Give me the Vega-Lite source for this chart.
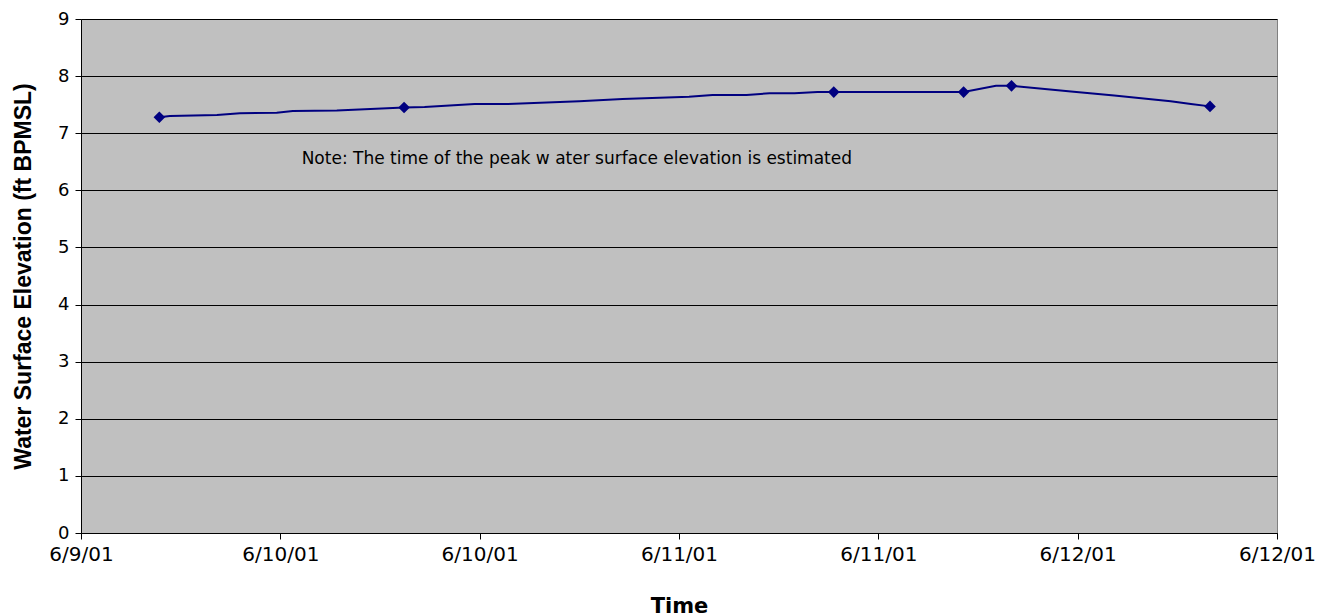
{
  "$schema": "https://vega.github.io/schema/vega-lite/v6.json",
  "width": 1196,
  "height": 514,
  "autosize": {"type": "none"},
  "padding": {"left": 81, "top": 19, "right": 50, "bottom": 83},
  "background": "white",
  "config": {
    "view": {"fill": "#C0C0C0", "stroke": "#808080", "strokeWidth": 1}
  },
  "datasets": {
    "stage": [
      {"time": "2001-06-09T16:43:00Z", "elev": 7.28, "measured": true},
      {"time": "2001-06-09T17:21:00Z", "elev": 7.30, "measured": false},
      {"time": "2001-06-09T20:11:00Z", "elev": 7.32, "measured": false},
      {"time": "2001-06-09T21:34:00Z", "elev": 7.35, "measured": false},
      {"time": "2001-06-09T23:47:00Z", "elev": 7.36, "measured": false},
      {"time": "2001-06-10T00:45:00Z", "elev": 7.39, "measured": false},
      {"time": "2001-06-10T03:24:00Z", "elev": 7.40, "measured": false},
      {"time": "2001-06-10T05:05:00Z", "elev": 7.42, "measured": false},
      {"time": "2001-06-10T07:27:00Z", "elev": 7.45, "measured": true},
      {"time": "2001-06-10T08:41:00Z", "elev": 7.46, "measured": false},
      {"time": "2001-06-10T11:42:00Z", "elev": 7.51, "measured": false},
      {"time": "2001-06-10T13:41:00Z", "elev": 7.51, "measured": false},
      {"time": "2001-06-10T18:00:00Z", "elev": 7.56, "measured": false},
      {"time": "2001-06-10T20:36:00Z", "elev": 7.60, "measured": false},
      {"time": "2001-06-11T00:36:00Z", "elev": 7.64, "measured": false},
      {"time": "2001-06-11T02:01:00Z", "elev": 7.67, "measured": false},
      {"time": "2001-06-11T04:04:00Z", "elev": 7.67, "measured": false},
      {"time": "2001-06-11T05:27:00Z", "elev": 7.70, "measured": false},
      {"time": "2001-06-11T06:57:00Z", "elev": 7.70, "measured": false},
      {"time": "2001-06-11T08:20:00Z", "elev": 7.72, "measured": false},
      {"time": "2001-06-11T09:19:00Z", "elev": 7.72, "measured": true},
      {"time": "2001-06-11T17:08:00Z", "elev": 7.72, "measured": true},
      {"time": "2001-06-11T19:05:00Z", "elev": 7.83, "measured": false},
      {"time": "2001-06-11T20:01:00Z", "elev": 7.83, "measured": true},
      {"time": "2001-06-11T23:36:00Z", "elev": 7.73, "measured": false},
      {"time": "2001-06-12T02:12:00Z", "elev": 7.66, "measured": false},
      {"time": "2001-06-12T05:36:00Z", "elev": 7.56, "measured": false},
      {"time": "2001-06-12T06:49:00Z", "elev": 7.51, "measured": false},
      {"time": "2001-06-12T07:58:00Z", "elev": 7.47, "measured": true}
    ],
    "note": [
      {"time": "2001-06-10T01:17:00Z", "elev": 6.55, "text": "Note: The time of the peak w ater surface elevation is estimated"}
    ]
  },
  "encoding": {
    "x": {
      "field": "time",
      "type": "temporal",
      "title": "Time",
      "scale": {
        "type": "utc",
        "domain": [
          {"year": 2001, "month": 6, "date": 9, "hours": 12, "utc": true},
          {"year": 2001, "month": 6, "date": 12, "hours": 12, "utc": true}
        ]
      },
      "axis": {
        "format": "%-m/%-d/%y",
        "values": [
          {"year": 2001, "month": 6, "date": 9, "hours": 12, "utc": true},
          {"year": 2001, "month": 6, "date": 10, "hours": 0, "utc": true},
          {"year": 2001, "month": 6, "date": 10, "hours": 12, "utc": true},
          {"year": 2001, "month": 6, "date": 11, "hours": 0, "utc": true},
          {"year": 2001, "month": 6, "date": 11, "hours": 12, "utc": true},
          {"year": 2001, "month": 6, "date": 12, "hours": 0, "utc": true},
          {"year": 2001, "month": 6, "date": 12, "hours": 12, "utc": true}
        ],
        "grid": false,
        "labelFlush": false,
        "labelOverlap": false,
        "labelFont": "DejaVu Sans",
        "labelFontSize": 20,
        "labelColor": "black",
        "labelPadding": 5,
        "domainColor": "black",
        "tickColor": "black",
        "tickSize": 6,
        "titleFont": "DejaVu Sans",
        "titleFontSize": 21,
        "titleFontWeight": "bold",
        "titleColor": "black",
        "titlePadding": 31
      }
    },
    "y": {
      "field": "elev",
      "type": "quantitative",
      "title": "Water Surface Elevation (ft BPMSL)",
      "scale": {"domain": [0, 9], "nice": false},
      "axis": {
        "values": [0, 1, 2, 3, 4, 5, 6, 7, 8, 9],
        "grid": true,
        "gridColor": "black",
        "gridOpacity": 1,
        "gridWidth": 1,
        "labelFont": "DejaVu Sans",
        "labelFontSize": 18,
        "labelColor": "black",
        "labelPadding": 6,
        "domainColor": "black",
        "tickColor": "black",
        "tickSize": 6,
        "titleFont": "Liberation Sans",
        "titleFontSize": 23,
        "titleFontWeight": "bold",
        "titleColor": "black",
        "titlePadding": 22
      }
    }
  },
  "layer": [
    {
      "data": {"name": "stage"},
      "mark": {"type": "line", "color": "#000080", "strokeWidth": 2}
    },
    {
      "data": {"name": "stage"},
      "transform": [{"filter": "datum.measured"}],
      "mark": {"type": "point", "shape": "diamond", "filled": true, "color": "#000080", "opacity": 1, "size": 135}
    },
    {
      "data": {"name": "note"},
      "mark": {"type": "text", "align": "left", "baseline": "middle", "fontSize": 17, "color": "black", "font": "DejaVu Sans"},
      "encoding": {"text": {"field": "text"}}
    }
  ]
}
